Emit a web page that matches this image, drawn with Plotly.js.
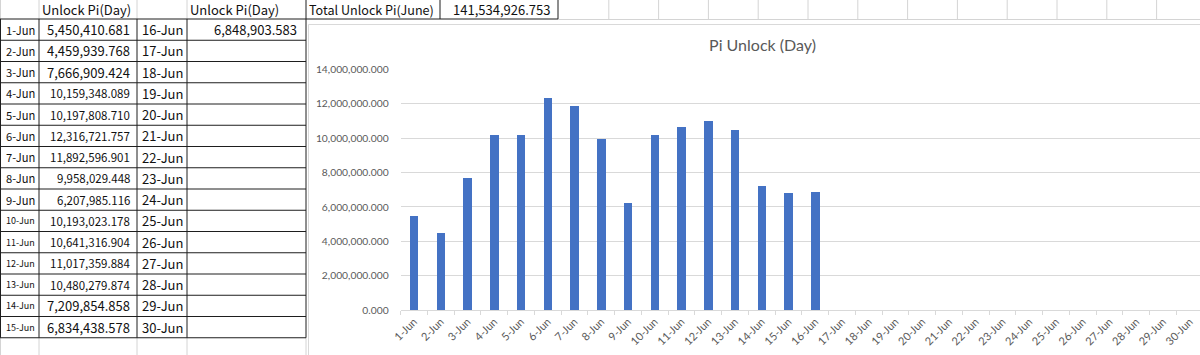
<!DOCTYPE html>
<html>
<head>
<meta charset="utf-8">
<script src="https://cdn.plot.ly/plotly-3.0.1.min.js"></script>
<style>
html,body{margin:0;padding:0;background:#fff;overflow:hidden;width:1200px;height:355px;}
#chart{width:1200px;height:355px;}
</style>
</head>
<body>
<div id="chart"></div>
<script>
// ---- data ----
const categories = ["1-Jun","2-Jun","3-Jun","4-Jun","5-Jun","6-Jun","7-Jun","8-Jun","9-Jun","10-Jun",
  "11-Jun","12-Jun","13-Jun","14-Jun","15-Jun","16-Jun","17-Jun","18-Jun","19-Jun","20-Jun",
  "21-Jun","22-Jun","23-Jun","24-Jun","25-Jun","26-Jun","27-Jun","28-Jun","29-Jun","30-Jun"];
const unlockValues = [5450410.681, 4459939.768, 7666909.424, 10159348.089, 10197808.710,
  12316721.757, 11892596.901, 9958029.448, 6207985.116, 10193023.178, 10641316.904,
  11017359.884, 10480279.874, 7209854.858, 6834438.578, 6848903.583];
const headerLabel = "Unlock Pi(Day)";
const totalLabel = "Total Unlock Pi(June)";
const chartTitle = "Pi Unlock (Day)";

// ---- helpers ----
const W = 1200, H = 355;
const px = x => x / W;
const py = y => 1 - y / H;
const fmt = v => v.toLocaleString('en-US', {minimumFractionDigits: 3, maximumFractionDigits: 3});
const total = unlockValues.reduce((a, b) => a + b, 0);

const nRows = 15;
const rowTop = 19, rowH = 21.25;
const rowMid = i => rowTop + rowH * (i + 0.5);

const FN = "Noto Sans CJK JP";
const big = 13, dateA = 11.2, smallDate = 9, smallVal = 11.5;
const txtColor = '#111';
const dark = '#1e1e1e';
const grid = '#d4d4d4';

// ---- spreadsheet cells as annotations on a hidden pixel-scale axis pair ----
const annotations = [];
const cell = (text, x, y, anchor, size) => annotations.push({
  xref: 'x2', yref: 'y2', x: x, y: y, text: text, showarrow: false,
  xanchor: anchor, yanchor: 'middle', borderpad: 0,
  font: {family: FN, size: size, color: txtColor}
});
cell(headerLabel, 41, 9.5, 'left', big);
cell(headerLabel, 189, 9.5, 'left', big);
cell(totalLabel, 308, 9.5, 'left', 12.6);
cell(fmt(total), 551, 9.5, 'right', big);
for (let i = 0; i < nRows; i++) {
  cell(categories[i], 5, rowMid(i), 'left', i >= 9 ? smallDate : dateA);
  cell(fmt(unlockValues[i]), 131, rowMid(i), 'right', (i >= 3 && i <= 12) ? smallVal : big);
  cell(categories[nRows + i], 141, rowMid(i), 'left', big);
  if (nRows + i < unlockValues.length) cell(fmt(unlockValues[nRows + i]), 298, rowMid(i), 'right', big);
}

// ---- gridlines / borders (style only) ----
const shapes = [];
const seg = (x0, y0, x1, y1, color, layer) => shapes.push({type: 'line', xref: 'paper', yref: 'paper',
  layer: layer, x0: px(x0), x1: px(x1), y0: py(y0), y1: py(y1), line: {color: color, width: 1}});
[0.5, 39, 137, 187].forEach(x => seg(x, 0, x, 19, grid, 'below'));
[0.5, 39, 137, 187, 306].forEach(x => seg(x, 338, x, 355, grid, 'below'));
for (let k = 1; k <= 12; k++) seg(559 + 49.8 * k, 0, 559 + 49.8 * k, 19, grid, 'below');
seg(558, 19.5, 1200, 19.5, grid, 'below');
shapes.push({type: 'rect', xref: 'paper', yref: 'paper', layer: 'below',
  x0: px(308.5), x1: px(1215), y0: py(24.5), y1: py(370),
  fillcolor: 'white', line: {color: '#d9d9d9', width: 1}});
const bottom = rowTop + rowH * nRows;
for (let k = 0; k <= nRows; k++) seg(0, rowTop + rowH * k, 306, rowTop + rowH * k, dark, 'above');
[0.5, 39, 137, 187, 306].forEach(x => seg(x, rowTop, x, bottom, dark, 'above'));
[306, 440, 558].forEach(x => seg(x, 0, x, 19, dark, 'above'));
seg(306, 19, 558, 19, dark, 'above');

// ---- bar chart ----
const barY = categories.map((c, i) => (i < unlockValues.length ? unlockValues[i] : null));
const bars = {
  type: 'bar', x: categories, y: barY,
  marker: {color: '#4472C4'}, width: 0.32, hoverinfo: 'skip'
};
const anchorTrace = {type: 'scatter', x: [], y: [], xaxis: 'x2', yaxis: 'y2', hoverinfo: 'skip'};

const plotLeft = 400.7, catW = 26.75;
const xMax = -0.5 + (W - plotLeft) / catW;

const layout = {
  width: W, height: H,
  margin: {l: 0, r: 0, t: 0, b: 0, pad: 0},
  paper_bgcolor: 'white', plot_bgcolor: 'rgba(0,0,0,0)',
  showlegend: false,
  font: {family: 'Lato', color: '#595959'},
  title: {text: chartTitle, x: px(762.5), xref: 'paper', xanchor: 'center',
          y: py(45), yref: 'paper', yanchor: 'middle',
          font: {family: 'Lato', size: 16, color: '#595959'}},
  xaxis: {
    type: 'category', categoryorder: 'array', categoryarray: categories,
    domain: [px(plotLeft), 1], range: [-0.5, xMax],
    tickson: 'boundaries', ticks: 'outside', ticklen: 4, tickcolor: '#d9d9d9', tickwidth: 1,
    showline: true, linecolor: '#d9d9d9', linewidth: 1,
    showgrid: false, zeroline: false, automargin: false,
    tickangle: -45, tickfont: {family: 'Lato', size: 11, color: '#595959'},
    fixedrange: true
  },
  yaxis: {
    domain: [py(310), py(69.5)], range: [0, 14000000], dtick: 2000000,
    tickformat: ',.3f', showgrid: true, gridcolor: '#d9d9d9', gridwidth: 1,
    zeroline: false, showline: false, ticks: '', automargin: false,
    ticklabelstandoff: 11,
    tickfont: {family: 'Lato', size: 10.3, color: '#595959'},
    fixedrange: true
  },
  xaxis2: {domain: [0, 1], range: [0, W], visible: false, fixedrange: true, anchor: 'y2'},
  yaxis2: {domain: [0, 1], range: [H, 0], visible: false, fixedrange: true, anchor: 'x2'},
  bargap: 0,
  shapes: shapes,
  annotations: annotations
};

Plotly.newPlot('chart', [bars, anchorTrace], layout, {displayModeBar: false, staticPlot: true});
</script>
</body>
</html>
